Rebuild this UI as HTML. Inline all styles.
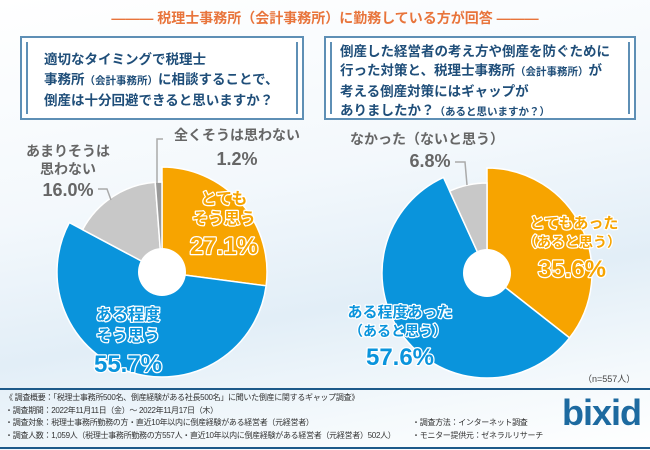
<!DOCTYPE html>
<html><head><meta charset="utf-8">
<style>
html,body{margin:0;padding:0;}
body{width:650px;height:450px;overflow:hidden;position:relative;font-family:"Liberation Sans","Noto Sans CJK JP",sans-serif;
background:linear-gradient(170deg,#ffffff 0%,#f3f8fc 40%,#e2eef7 65%,#f4f9fc 85%,#ffffff 100%);}
.title{position:absolute;top:8px;left:0;width:650px;text-align:center;color:#e8743b;font-size:14px;font-weight:bold;}
.box{position:absolute;top:36px;height:84px;border:2px solid #5e8fb5;background:#fff;box-sizing:border-box;}
.box .in{position:absolute;left:4px;right:4px;top:4px;bottom:4px;border-left:2px solid #5e8fb5;border-right:2px solid #5e8fb5;}
.box .txt{position:absolute;color:#1f4e79;font-size:13.5px;font-weight:bold;line-height:20px;white-space:nowrap;}
.foot{position:absolute;left:0;width:650px;height:2px;background:#1d5a8a;}
.ft{position:absolute;left:5px;font-size:8px;color:#333;line-height:12.5px;white-space:nowrap;letter-spacing:-0.3px;}
</style></head><body>
<div class="title">——— 税理士事務所（会計事務所）に勤務している方が回答 ———</div>
<div class="box" style="left:20px;width:284px"><div class="in"></div>
<div class="txt" style="left:22px;top:12px">適切なタイミングで税理士<br>事務所<span style="font-size:10.5px">（会計事務所）</span>に相談することで、<br>倒産は十分回避できると思いますか？</div></div>
<div class="box" style="left:324px;width:312px"><div class="in"></div>
<div class="txt" style="left:14px;top:4px;line-height:19px">倒産した経営者の考え方や倒産を防ぐために<br>行った対策と、税理士事務所<span style="font-size:10.5px">（会計事務所）</span>が<br>考える倒産対策にはギャップが<br>ありましたか？<span style="font-size:10.5px">（あると思いますか？）</span></div></div>

<svg id="chart" width="650" height="450" style="position:absolute;left:0;top:0"></svg>

<div style="position:absolute;left:583px;top:372px;font-size:9px;color:#444">（n=557人）</div>
<div class="foot" style="top:388px"></div>
<div class="foot" style="top:447px"></div>
<div class="ft" style="top:392px">《 調査概要：「税理士事務所500名、倒産経験がある社長500名」に聞いた倒産に関するギャップ調査》<br>・調査期間：2022年11月11日（金）～ 2022年11月17日（木）<br>・調査対象：税理士事務所勤務の方・直近10年以内に倒産経験がある経営者（元経営者）<br>・調査人数：1,059人（税理士事務所勤務の方557人・直近10年以内に倒産経験がある経営者（元経営者）502人）</div>
<div class="ft" style="top:417px;left:412px">・調査方法：インターネット調査<br>・モニター提供元：ゼネラルリサーチ</div>
<div style="position:absolute;left:562px;top:392px;font-size:36px;font-weight:bold;color:#1d6aa0;letter-spacing:-1px;font-family:'Liberation Sans',sans-serif">bixid</div>

<script>
const leftCategories=["とてもそう思う","ある程度そう思う","あまりそうは思わない","全くそうは思わない"];
const leftValues=[27.1,55.7,16.0,1.2];
const rightCategories=["とてもあった","ある程度あった","なかった"];
const rightValues=[35.6,57.6,6.8];
const leftColors=["#f7a400","#0a94dc","#c8c8c8","#9a9a9a"];
const rightColors=["#f7a400","#0a94dc","#c8c8c8"];
const svg=document.getElementById('chart');
const NS="http://www.w3.org/2000/svg";
function pt(cx,cy,r,a){return [cx+r*Math.sin(a),cy-r*Math.cos(a)];}
function drawPie(name,cx,cy,values,colors,radii){
  const tot=values.reduce((a,b)=>a+b,0);let a0=0;
  values.forEach((v,i)=>{
    const a1=a0+v/tot*2*Math.PI,r=radii[i];
    const p0=pt(cx,cy,r,a0),p1=pt(cx,cy,r,a1);
    const p=document.createElementNS(NS,'path');
    p.setAttribute('d',`M${cx},${cy}L${p0[0]},${p0[1]}A${r},${r} 0 ${a1-a0>Math.PI?1:0} 1 ${p1[0]},${p1[1]}Z`);
    p.setAttribute('fill',colors[i]);p.setAttribute('stroke','#fff');p.setAttribute('stroke-width','1.5');
    
    
    svg.appendChild(p);a0=a1;});
  const c=document.createElementNS(NS,'circle');
  c.setAttribute('cx',cx);c.setAttribute('cy',cy);c.setAttribute('r',24);c.setAttribute('fill','#fff');
  
  
  svg.appendChild(c);
}
drawPie('left-pie',162,272,leftValues,leftColors,[105,105,90,90]);
drawPie('right-pie',487,273,rightValues,rightColors,[105,105,90]);
function txt(x,y,s,size,fill,stroke,name,anchor){
  const t=document.createElementNS(NS,'text');
  t.setAttribute('x',x);t.setAttribute('y',y);t.setAttribute('font-size',size);t.setAttribute('font-weight','bold');
  t.setAttribute('fill',fill);t.setAttribute('text-anchor',anchor||'middle');
  t.setAttribute('font-family','"Liberation Sans","Noto Sans CJK JP",sans-serif');
  if(stroke){t.setAttribute('stroke',stroke);t.setAttribute('stroke-width','2.5');t.setAttribute('paint-order','stroke');t.setAttribute('stroke-linejoin','round');}
  t.textContent=s;
  
  
  svg.appendChild(t);
}
function line(pts,name){const l=document.createElementNS(NS,'polyline');l.setAttribute('points',pts);l.setAttribute('fill','none');l.setAttribute('stroke','#aaa');l.setAttribute('stroke-width','1.5');
  
  
  svg.appendChild(l);}
const f=v=>v.toFixed(1)+'%';
txt(224,204,'とても',16,'#f7a400','#fff','label-left-0a');
txt(224,224,'そう思う',16,'#f7a400','#fff','label-left-0b');
txt(224,254,f(leftValues[0]),24,'#f7a400','#fff','value-left-0');
txt(128,320,'ある程度',16,'#0a94dc','#fff','label-left-1a');
txt(128,341,'そう思う',16,'#0a94dc','#fff','label-left-1b');
txt(128,372,f(leftValues[1]),24,'#0a94dc','#fff','value-left-1');
txt(68,156,'あまりそうは',14,'#666',null,'label-left-2a');
txt(68,174,'思わない',14,'#666',null,'label-left-2b');
txt(68,196,f(leftValues[2]),18,'#666',null,'value-left-2');
line('98,189 107,189 111,200','leader-left-2');
txt(237,140,'全くそうは思わない',14,'#666',null,'label-left-3');
txt(237,165,f(leftValues[3]),18,'#666',null,'value-left-3');
line('163,139 157,139 157,183','leader-left-3');
txt(574,228,'とてもあった',15,'#f7a400','#fff','label-right-0a');
txt(572,247,'（あると思う）',14,'#f7a400','#fff','label-right-0b');
txt(572,277,f(rightValues[0]),24,'#f7a400','#fff','value-right-0');
txt(400,317,'ある程度あった',15,'#0a94dc','#fff','label-right-1a');
txt(398,336,'（あると思う）',14,'#0a94dc','#fff','label-right-1b');
txt(400,365,f(rightValues[1]),24,'#0a94dc','#fff','value-right-1');
txt(427,144,'なかった（ないと思う）',14,'#666',null,'label-right-2');
txt(430,167,f(rightValues[2]),18,'#666',null,'value-right-2');
line('455,162 465,162 467,185','leader-right-2');
</script>
</body></html>
